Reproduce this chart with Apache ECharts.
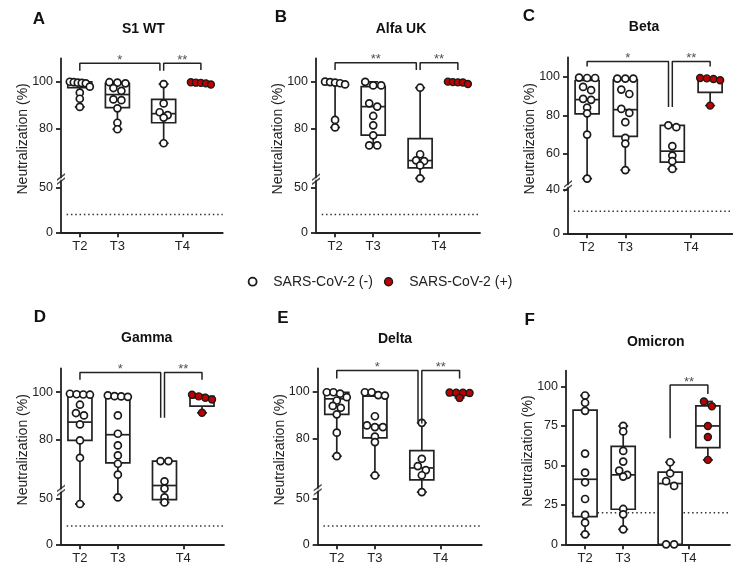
<!DOCTYPE html>
<html><head><meta charset="utf-8">
<script src="https://cdn.jsdelivr.net/npm/echarts@6/dist/echarts.min.js"></script>
<style>html,body{margin:0;padding:0;background:#fff}#c{width:744px;height:574px}</style>
</head><body><div id="c"></div>
<script>
// ================= DATA =================
const panelLetters = ['A', 'B', 'C', 'D', 'E', 'F'];
const panelTitles = ['S1 WT', 'Alfa UK', 'Beta', 'Gamma', 'Delta', 'Omicron'];
const groupLabels = ['T2', 'T3', 'T4'];
const legendNames = ['SARS-CoV-2 (-)', 'SARS-CoV-2 (+)'];
const yTicksBroken = [0, 50, 80, 100];
const yTicksBeta = [0, 40, 60, 80, 100];
const yTicksOmicron = [0, 25, 50, 75, 100];
const thresholdValue = 20;

// points per group: [T2 (-), T3 (-), T4 (-), T4 (+)]
const ptsS1WT = [
  [100, 99.8, 99.6, 99.5, 99.3, 97.9, 95.3, 92.7, 89.2],
  [99.8, 99.6, 99.3, 97.3, 96.1, 92.4, 92.1, 88.6, 82.4, 79.6],
  [99, 90.7, 86.9, 85.7, 84.6, 73.6],
  [99.8, 99.6, 99.5, 99.3, 98.8]
];
const ptsAlfa = [
  [100, 99.8, 99.6, 99.3, 98.8, 83.6, 80.4],
  [99.9, 98.4, 98.4, 90.7, 89.3, 85.3, 81.3, 77, 72.7, 72.7],
  [97.4, 68.9, 66.3, 66, 64.1, 58],
  [100, 99.8, 99.7, 99.6, 99]
];
const ptsBeta = [
  [99.5, 99.3, 99.3, 94.7, 93, 88.5, 88, 84, 81, 70, 47.2],
  [99, 99, 99, 93.3, 91, 83.3, 81.2, 76.4, 68.3, 65.3, 51.6],
  [74.8, 73.8, 64, 59.1, 56.2, 52.2],
  [99.3, 99.1, 98.8, 98.1, 85]
];
const ptsGamma = [
  [99.3, 99.1, 99, 98.9, 94.7, 91.2, 90.2, 86.4, 79.7, 72.4, 43.8],
  [98.6, 98.3, 98.2, 98, 90.2, 82.5, 77.6, 73.4, 69.9, 65.3, 51],
  [71, 71, 62.5, 59, 51, 45.5],
  [98.9, 98.2, 97.6, 96.9, 91.3]
];
const ptsDelta = [
  [99.8, 99.8, 99.2, 97.7, 96.3, 94, 93.2, 90.4, 82.6, 72.6],
  [99.8, 99.8, 98.6, 98.4, 89.6, 85.7, 85, 85, 80.9, 78.6, 64.4],
  [86.8, 71.5, 68.4, 66.7, 64.5, 56],
  [99.7, 99.6, 99.6, 99.5, 97.4]
];
const ptsOmicron = [
  [94.3, 89.7, 84.6, 57.5, 45.4, 39.3, 28.7, 18.6, 13.7, 6.3],
  [75, 71.5, 59.2, 52.4, 46.7, 44, 42.9, 22.4, 19, 9.5],
  [52, 45, 40, 37, 0, 0],
  [90.5, 87.5, 75, 68, 53.5]
];

// box stats per group: [min, Q1, median, Q3, max]
const boxS1WT = [[89.2, 97.5, 99.3, 100, 100], [79.6, 88.9, 94.5, 99.3, 99.8], [73.6, 82.4, 86.3, 92.4, 99], [98.8, 99.1, 99.5, 99.6, 99.8]];
const boxAlfa = [[80.4, 98.8, 99.4, 99.8, 100], [72.7, 77.1, 89.3, 97.9, 99.9], [58, 63.1, 66.2, 75.6, 97.4], [99, 99.5, 99.7, 99.8, 100]];
const boxBeta = [[47.2, 80.7, 88.1, 98, 99.5], [51.6, 69.1, 82.9, 98.4, 99], [52.2, 55.7, 61.4, 74.8, 74.8], [85, 91.9, 98.8, 99.1, 99.3]];
const boxGamma = [[43.8, 79.7, 87.4, 98.9, 99.3], [51, 70.3, 82.1, 98.2, 98.6], [45.5, 48.5, 60.75, 71, 71], [91.3, 94.1, 97.6, 98.2, 98.9]];
const boxDelta = [[72.6, 90.4, 97, 99.8, 99.8], [64.4, 80.4, 85.7, 98.2, 99.8], [56, 62.5, 67.6, 75, 86.8], [97.4, 98.5, 99.6, 99.65, 99.7]];
const boxOmicron = [[6.3, 17.5, 41.2, 85, 94.3], [9.5, 22.2, 44, 62, 75], [0, 0, 38.5, 45.7, 52], [53.5, 61.3, 75, 87.7, 90.5]];

// significance marks per bracket
const sigS1WT = ['*', '**'];
const sigAlfa = ['**', '**'];
const sigBeta = ['*', '**'];
const sigGamma = ['*', '**'];
const sigDelta = ['*', '**'];
const sigOmicron = ['**'];

// ================= LAYOUT / STYLE =================
const FONT = 'Liberation Sans, Arial, Helvetica, sans-serif';
const INK = '#222';
const RED = '#c00000';
const xPos = [1, 2, 3.23, 4.22];      // T2, T3, T4(-), T4(+)
const xLabelPos = [1, 2, 3.725];
const X_MIN = 0.5, X_MAX = 4.8;
const TICK_FONT = 12.5;

const layouts = [
  {left: 61, bottom: 232.3, width: 161.7, tr: {a: 0.892, b: 2.33, L: 55, U: 60, g: 8.3}, brk: true, letterAt: [39, 19], titleAt: [143.3, 29.3],
   brackets: [{from: 0, to: 2, shift: -0.1, top: 107.9, d1: 104.7, d2: 104.7}, {from: 2, to: 3, shift: 0, top: 107.9, d1: 104.7, d2: 105}]},
  {left: 316, bottom: 232.3, width: 164, tr: {a: 0.892, b: 2.335, L: 55, U: 60, g: 8.2}, brk: true, letterAt: [281, 17.5], titleAt: [401, 29],
   brackets: [{from: 0, to: 2, shift: -0.1, top: 108.1, d1: 105, d2: 105}, {from: 2, to: 3, shift: 0, top: 108.1, d1: 105, d2: 105}]},
  {left: 568, bottom: 233.3, width: 164.3, tr: {a: 1.1, b: 1.93, L: 40, U: 45, g: 6.5}, brk: true, letterAt: [529, 16.7], titleAt: [644, 26.7],
   brackets: [{from: 0, to: 2, shift: -0.1, top: 107.9, d1: 105.3, d2: 84.3}, {from: 2, to: 3, shift: 0, top: 107.9, d1: 84.3, d2: 105.3}]},
  {left: 61, bottom: 544.3, width: 163, tr: {a: 0.92, b: 2.38, L: 55, U: 60, g: 6.4}, brk: true, letterAt: [40, 317.5], titleAt: [146.7, 337.7],
   brackets: [{from: 0, to: 2, shift: -0.1, top: 108.2, d1: 105.2, d2: 89.2}, {from: 2, to: 3, shift: 0, top: 108.2, d1: 89.2, d2: 105.2}]},
  {left: 317.7, bottom: 544.3, width: 164, tr: {a: 0.92, b: 2.35, L: 55, U: 60, g: 7.9}, brk: true, letterAt: [283, 318], titleAt: [395, 339],
   brackets: [{from: 0, to: 2, shift: -0.1, top: 109.1, d1: 105.7, d2: 86.5}, {from: 2, to: 3, shift: 0, top: 109.1, d1: 86.5, d2: 105.7}]},
  {left: 566, bottom: 544.3, width: 164, tr: {a: 1.578, b: 1.578, L: 200, U: 201, g: 0}, brk: false, letterAt: [529.7, 320], titleAt: [655.7, 341.7],
   brackets: [{from: 2, to: 3, shift: 0, top: 101, d1: 67.2, d2: 95.2}]}
];

const panels = [
  {pts: ptsS1WT, box: boxS1WT, sig: sigS1WT, ticks: yTicksBroken},
  {pts: ptsAlfa, box: boxAlfa, sig: sigAlfa, ticks: yTicksBroken},
  {pts: ptsBeta, box: boxBeta, sig: sigBeta, ticks: yTicksBeta},
  {pts: ptsGamma, box: boxGamma, sig: sigGamma, ticks: yTicksBroken},
  {pts: ptsDelta, box: boxDelta, sig: sigDelta, ticks: yTicksBroken},
  {pts: ptsOmicron, box: boxOmicron, sig: sigOmicron, ticks: yTicksOmicron}
];

// piecewise-linear broken-axis scale (lower segment, gap, upper segment)
function makeT(p) {
  const tL = p.L * p.a;
  return v => v <= p.L ? v * p.a
    : (v < p.U ? tL + (v - p.L) / (p.U - p.L) * p.g : tL + p.g + (v - p.U) * p.b);
}

// deterministic scatter spreading: points with near-equal heights spread sideways
function swarmOffsets(vals, T, binPx, stepPx, maxHalfPx) {
  const order = vals.map((v, i) => i).sort((i, j) => vals[j] - vals[i]);
  const off = new Array(vals.length).fill(0);
  let bin = [];
  const flush = () => {
    const n = bin.length;
    if (n > 1) {
      const sp = Math.min(stepPx, 2 * maxHalfPx / (n - 1));
      bin.forEach((idx, k) => { off[idx] = (k - (n - 1) / 2) * sp; });
    }
    bin = [];
  };
  for (const i of order) {
    if (bin.length && T(vals[bin[0]]) - T(vals[i]) >= binPx) flush();
    bin.push(i);
  }
  flush();
  return off;
}

const grids = [], xAxes = [], yAxes = [], series = [], graphics = [];
const lineW = 1.7;

panels.forEach((p, i) => {
  const Ly = layouts[i];
  const T = makeT(Ly.tr);
  const yMax = T(110);
  const pxPerUnit = Ly.width / (X_MAX - X_MIN);
  grids.push({left: Ly.left, top: Ly.bottom - yMax, width: Ly.width, height: yMax, containLabel: false, outerBoundsMode: 'none'});

  xAxes.push({
    gridIndex: i, type: 'value', min: X_MIN, max: X_MAX,
    axisLine: {onZero: false, lineStyle: {color: INK, width: 1.8}},
    axisTick: {customValues: xLabelPos, length: 5, lineStyle: {color: INK, width: 1.8}},
    axisLabel: {customValues: xLabelPos, margin: 8, fontSize: 13, color: INK, fontFamily: FONT,
      formatter: v => groupLabels[xLabelPos.reduce((b, q, k) => Math.abs(q - v) < Math.abs(xLabelPos[b] - v) ? k : b, 0)]},
    splitLine: {show: false}
  });

  const tickT = p.ticks.map(T);
  yAxes.push({
    gridIndex: i, type: 'value', min: 0, max: yMax,
    name: 'Neutralization (%)', nameLocation: 'middle', nameGap: 31, nameRotate: 90, nameMoveOverlap: false,
    nameTextStyle: {fontSize: 14, color: INK, fontFamily: FONT, padding: [0, 0, 0, 13]},
    axisLine: {show: true, onZero: false, lineStyle: {color: INK, width: 1.8}},
    axisTick: {show: true, customValues: tickT, length: 5, lineStyle: {color: INK, width: 1.8}},
    axisLabel: {customValues: tickT, margin: 8, fontSize: TICK_FONT, color: INK, fontFamily: FONT,
      formatter: v => String(p.ticks[tickT.reduce((b, q, k) => Math.abs(q - v) < Math.abs(tickT[b] - v) ? k : b, 0)])},
    splitLine: {show: false}
  });

  const ax = {xAxisIndex: i, yAxisIndex: i};

  // dotted threshold line
  series.push(Object.assign({
    type: 'line', name: 'threshold' + i, silent: true, symbol: 'none', z: 1,
    data: [[X_MIN + 0.15, T(thresholdValue)], [X_MAX, T(thresholdValue)]],
    lineStyle: {color: '#333', width: 1.5, type: [1.5, 2.8]}
  }, ax));

  // boxes (min-max whiskers)
  series.push(Object.assign({
    type: 'custom', name: 'box' + i, silent: true, z: 2, clip: false,
    dimensions: ['x', 'min', 'q1', 'med', 'q3', 'max'],
    encode: {x: 0, y: [1, 2, 3, 4, 5]},
    data: p.box.map((b, k) => [xPos[k]].concat(b.map(T))),
    renderItem: (params, api) => {
      const x = api.value(0);
      const c = k => api.coord([x, api.value(k)]);
      const pMin = c(1), pQ1 = c(2), pMed = c(3), pQ3 = c(4), pMax = c(5);
      const cx = pMin[0], hw = 12, cw = 5;
      const st = {stroke: INK, lineWidth: lineW, fill: null};
      return {type: 'group', children: [
        {type: 'line', shape: {x1: cx, y1: pQ3[1], x2: cx, y2: pMax[1]}, style: st},
        {type: 'line', shape: {x1: cx, y1: pQ1[1], x2: cx, y2: pMin[1]}, style: st},
        {type: 'line', shape: {x1: cx - cw, y1: pMax[1], x2: cx + cw, y2: pMax[1]}, style: st},
        {type: 'line', shape: {x1: cx - cw, y1: pMin[1], x2: cx + cw, y2: pMin[1]}, style: st},
        {type: 'rect', shape: {x: cx - hw, y: pQ3[1], width: 2 * hw, height: pQ1[1] - pQ3[1]}, style: {stroke: INK, lineWidth: lineW, fill: '#fff'}},
        {type: 'line', shape: {x1: cx - hw, y1: pMed[1], x2: cx + hw, y2: pMed[1]}, style: st}
      ]};
    }
  }, ax));

  // points
  const ptData = p.pts.map((vals, k) => {
    const off = swarmOffsets(vals, T, 5, 8, 10);
    return vals.map((v, j) => [xPos[k] + off[j] / pxPerUnit, T(v)]);
  });
  series.push(Object.assign({
    type: 'scatter', name: legendNames[0], z: 3, clip: false, symbol: 'circle', symbolSize: 7,
    itemStyle: {color: '#fff', borderColor: '#1a1a1a', borderWidth: 1.7, opacity: 1},
    data: ptData[0].concat(ptData[1], ptData[2])
  }, ax));
  series.push(Object.assign({
    type: 'scatter', name: legendNames[1], z: 3, clip: false, symbol: 'circle', symbolSize: 7,
    itemStyle: {color: RED, borderColor: '#1a1a1a', borderWidth: 1.4, opacity: 1},
    data: ptData[3]
  }, ax));

  // significance brackets
  Ly.brackets.forEach((b, k) => {
    const x1 = xPos[b.from], x2 = xPos[b.to] + b.shift;
    series.push(Object.assign({
      type: 'line', name: 'bracket' + i + '_' + k, silent: true, symbol: 'none', z: 4,
      data: [[x1, T(b.d1)], [x1, T(b.top)], [x2, T(b.top)], [x2, T(b.d2)]],
      lineStyle: {color: INK, width: 1.5}
    }, ax));
  });
  series.push(Object.assign({
    type: 'scatter', name: 'sig' + i, silent: true, z: 5, clip: false, symbolSize: 1,
    itemStyle: {color: 'rgba(0,0,0,0)'},
    label: {show: true, position: 'inside', offset: [0, -3], fontSize: 13, color: INK, fontFamily: FONT,
      formatter: prm => p.sig[prm.dataIndex]},
    data: Ly.brackets.map(b => [(xPos[b.from] + xPos[b.to] + b.shift) / 2, T(b.top)])
  }, ax));

  // axis break mark "//"
  if (Ly.brk) {
    const yc = (T(Ly.tr.L) + T(Ly.tr.U)) / 2;
    series.push(Object.assign({
      type: 'scatter', name: 'break' + i, silent: true, z: 6, clip: false,
      data: [
        {value: [X_MIN, yc], symbol: 'rect', symbolSize: [6, 2.6], itemStyle: {color: '#fff'}},
        {value: [X_MIN, yc], symbol: 'path://M0,6 L8,0 L8,1.8 L0,7.8 Z M0,10.2 L8,4.2 L8,6 L0,12 Z', symbolSize: [8, 12], itemStyle: {color: INK}}
      ]
    }, ax));
  }

  graphics.push({type: 'text', x: Ly.letterAt[0], y: Ly.letterAt[1],
    style: {text: panelLetters[i], font: 'bold 17px ' + FONT, fill: '#111', align: 'center', verticalAlign: 'middle'}});
  graphics.push({type: 'text', x: Ly.titleAt[0], y: Ly.titleAt[1],
    style: {text: panelTitles[i], font: 'bold 14px ' + FONT, fill: '#111', align: 'center', verticalAlign: 'middle'}});
});

const chart = echarts.init(document.getElementById('c'), null, {renderer: 'canvas'});
chart.setOption({
  animation: false,
  backgroundColor: '#fff',
  textStyle: {fontFamily: FONT},
  grid: grids, xAxis: xAxes, yAxis: yAxes, series: series, graphic: graphics,
  legend: {
    left: 247.7, top: 274.7, padding: 0, orient: 'horizontal', itemWidth: 8, itemHeight: 8, itemGap: 11,
    selectedMode: false,
    formatter: name => '   ' + name,
    textStyle: {fontSize: 14, color: INK, fontFamily: FONT},
    data: [
      {name: legendNames[0], icon: 'circle', itemStyle: {color: '#fff', borderColor: '#1a1a1a', borderWidth: 1.8}},
      {name: legendNames[1], icon: 'circle', itemStyle: {color: RED, borderColor: '#1a1a1a', borderWidth: 1.4}}
    ]
  }
});
</script>
</body></html>
